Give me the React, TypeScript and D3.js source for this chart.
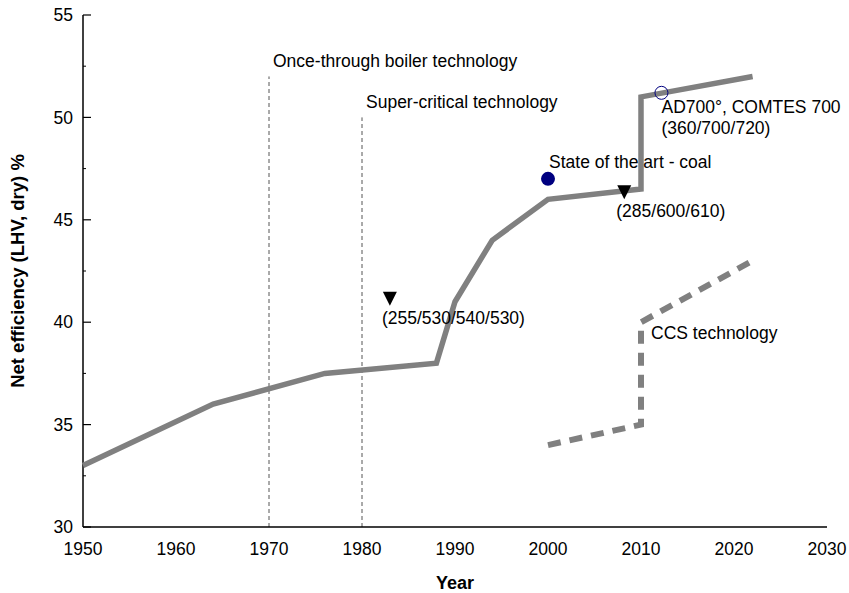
import React from "react";
import * as d3 from "d3";

// main efficiency path (solid grey)
const mainYears = [1950, 1964, 1976, 1988, 1990, 1994, 2000, 2010, 2010, 2022];
const mainEff = [33, 36, 37.5, 38, 41, 44, 46, 46.5, 51, 52];

// CCS path (dashed grey)
const ccsYears = [2000, 2010, 2010, 2022];
const ccsEff = [34, 35, 40, 43];

// technology milestones (vertical dotted lines)
const techYears = [1970, 1980];
const techTops = [52, 50];
const techLabels = ["Once-through boiler technology", "Super-critical technology"];

// steam parameter markers
const triYears = [1983, 2008.2];
const triEff = [41.15, 46.35];
const triLabels = ["(255/530/540/530)", "(285/600/610)"];

const stateYear = 2000;
const stateEff = 47;
const adYear = 2012.2;
const adEff = 51.2;

const xTicks = [1950, 1960, 1970, 1980, 1990, 2000, 2010, 2020, 2030];
const yTicks = [30, 35, 40, 45, 50, 55];
const yMinor = [32.5, 37.5, 42.5, 47.5, 52.5];

const W = 849;
const H = 593;
const font = "'Liberation Sans', Arial, Helvetica, sans-serif";
const grey = "#808080";
const navy = "#000080";

const App = () => {
  const x = d3.scaleLinear().domain([1950, 2030]).range([83, 827]);
  const y = d3.scaleLinear().domain([30, 55]).range([527, 15]);

  const line = d3
    .line<[number, number]>()
    .x((d) => x(d[0]))
    .y((d) => y(d[1]));

  const mainPts = mainYears.map((yr, i) => [yr, mainEff[i]] as [number, number]);
  const ccsPts = ccsYears.map((yr, i) => [yr, ccsEff[i]] as [number, number]);

  const tri = (cx: number, cy: number) =>
    `M${cx - 7},${cy - 7}L${cx + 7},${cy - 7}L${cx},${cy + 7}Z`;

  return (
    <div style={{ position: "absolute", left: 0, top: 0 }}>
      <svg width={W} height={H} style={{ display: "block", background: "#fff" }}>
        <g fontFamily={font} fontSize="17.5" fill="#000">
          {/* milestone lines */}
          {techYears.map((yr, i) => (
            <g key={yr}>
              <line
                x1={x(yr)}
                x2={x(yr)}
                y1={y(30)}
                y2={y(techTops[i])}
                stroke="#555"
                strokeWidth={1}
                strokeDasharray="4,3"
              />
              <text x={x(yr) + 4} y={y(techTops[i]) - 9}>
                {techLabels[i]}
              </text>
            </g>
          ))}

          {/* axes */}
          <line x1={x(1950)} x2={x(1950)} y1={y(30)} y2={y(55)} stroke="#000" strokeWidth={1.5} />
          <line x1={x(1950)} x2={x(2030)} y1={y(30)} y2={y(30)} stroke="#000" strokeWidth={1.5} />
          {yTicks.map((t) => (
            <g key={t}>
              <line x1={x(1950)} x2={x(1950) + 8} y1={y(t)} y2={y(t)} stroke="#000" strokeWidth={1.2} />
              <text x={x(1950) - 10} y={y(t)} dy="0.35em" textAnchor="end">
                {t}
              </text>
            </g>
          ))}
          {yMinor.map((t) => (
            <line key={t} x1={x(1950)} x2={x(1950) + 3} y1={y(t)} y2={y(t)} stroke="#000" strokeWidth={1} />
          ))}
          {xTicks.map((t) => (
            <text key={t} x={x(t)} y={555} textAnchor="middle">
              {t}
            </text>
          ))}
          <text x={(x(1950) + x(2030)) / 2} y={589} textAnchor="middle" fontWeight="bold" fontSize="18">
            Year
          </text>
          <text
            transform={`translate(24 ${(y(30) + y(55)) / 2}) rotate(-90)`}
            textAnchor="middle"
            fontWeight="bold"
            fontSize="18.5"
          >
            Net efficiency (LHV, dry) %
          </text>

          {/* efficiency curves */}
          <path d={line(mainPts) || ""} fill="none" stroke={grey} strokeWidth={5.5} strokeLinejoin="miter" />
          <path
            d={line(ccsPts) || ""}
            fill="none"
            stroke={grey}
            strokeWidth={6}
            strokeDasharray="13,9"
          />
          <text x={x(2010) + 10} y={y(40) + 17}>
            CCS technology
          </text>

          {/* markers */}
          {triYears.map((yr, i) => (
            <g key={yr}>
              <path d={tri(x(yr), y(triEff[i]))} fill="#000" />
              <text x={x(yr) - 8} y={y(triEff[i]) + 25}>
                {triLabels[i]}
              </text>
            </g>
          ))}
          <circle cx={x(stateYear)} cy={y(stateEff)} r={7} fill={navy} />
          <text x={x(stateYear) + 1} y={y(stateEff) - 11}>
            State of the art - coal
          </text>
          <circle cx={x(adYear)} cy={y(adEff)} r={6.5} fill="none" stroke={navy} strokeWidth={1} />
          <text x={x(adYear)} y={y(adEff) + 20}>
            AD700°, COMTES 700
          </text>
          <text x={x(adYear)} y={y(adEff) + 41}>
            (360/700/720)
          </text>
        </g>
      </svg>
    </div>
  );
};

export default App;
